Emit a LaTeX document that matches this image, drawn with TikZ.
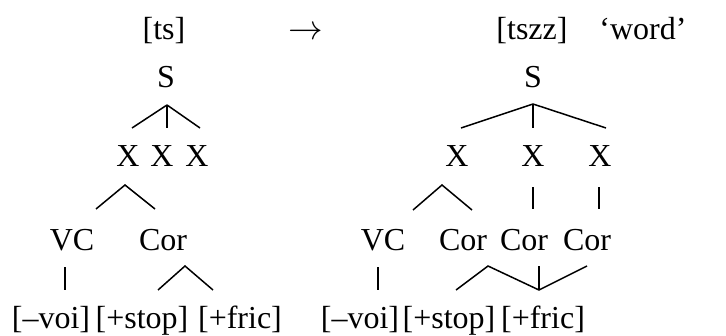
\documentclass[tikz,border=0pt]{standalone}
\usepackage{fontspec}
\setmainfont{Liberation Serif}
\usetikzlibrary{positioning}

\begin{document}
\begin{tikzpicture}[x=0.5pt,y=-0.5pt,
    lab/.style={inner sep=0pt,anchor=base,font=\fontsize{16}{19}\selectfont},
    branch/.style={line width=0.75pt}]

  \useasboundingbox (0,0) rectangle (726,336);

  % Top row
  \node[lab] (ts) at (164,40) {[ts]};
  \node[lab] (arr) at (306,40) {$\rightarrow$};
  \node[lab] (tszz) at (532,40) {[tszz]};
  \node[lab] (gloss) at (643,40) {‘word’};

  % Left tree
  \node[lab] (lS) at (166,88) {S};
  \foreach \n/\x in {1/128,2/162,3/197}
    \node[lab] (lX\n) at (\x,167) {X};
  \node[lab] (lVC) at (72,250) {VC};
  \node[lab] (lCor) at (163,250) {Cor};
  \node[lab] (lvoi) at (51,328) {[–voi]};
  \node[lab] (lstop) at (142,328) {[+stop]};
  \node[lab] (lfric) at (240,328) {[+fric]};

  \coordinate (lSb) at (167,105);
  \coordinate (lX1t) at (132,128);
  \coordinate (lX2t) at (167,128);
  \coordinate (lX3t) at (200,128);
  \coordinate (lX1b) at (125,185);
  \coordinate (lVCt) at (96,209);
  \coordinate (lCort) at (155,209);
  \coordinate (lVCb) at (65,267);
  \coordinate (lvoit) at (65,290);
  \coordinate (lCorb) at (185,266);
  \coordinate (lstopt) at (158,290);
  \coordinate (lfrict) at (213,290);

  \foreach \e in {lX1t,lX2t,lX3t}
    \draw[branch] (lSb) -- (\e);
  \draw[branch] (lVCt) -- (lX1b) -- (lCort);
  \draw[branch] (lVCb) -- (lvoit);
  \draw[branch] (lstopt) -- (lCorb) -- (lfrict);

  % Right tree
  \node[lab] (rS) at (533,88) {S};
  \foreach \n/\x in {1/457,2/533,3/600}
    \node[lab] (rX\n) at (\x,167) {X};
  \node[lab] (rVC) at (383,250) {VC};
  \foreach \n/\x in {1/463,2/524,3/587}
    \node[lab] (rCor\n) at (\x,250) {Cor};
  \node[lab] (rvoi) at (360,328) {[–voi]};
  \node[lab] (rstop) at (449,328) {[+stop]};
  \node[lab] (rfric) at (543,328) {[+fric]};

  \coordinate (rSb) at (533,104);
  \coordinate (rX1t) at (461,128);
  \coordinate (rX2t) at (533,128);
  \coordinate (rX3t) at (606,128);
  \coordinate (rX1b) at (442,185);
  \coordinate (rVCt) at (413,210);
  \coordinate (rCor1t) at (472,210);
  \coordinate (rX2b) at (533,187);
  \coordinate (rCor2t) at (533,209);
  \coordinate (rX3b) at (599,187);
  \coordinate (rCor3t) at (599,209);
  \coordinate (rVCb) at (378,267);
  \coordinate (rvoit) at (378,290);
  \coordinate (rCor1b) at (488,266);
  \coordinate (rCor2b) at (539,266);
  \coordinate (rCor3b) at (587,266);
  \coordinate (rstopt) at (456,290);
  \coordinate (rfrict) at (539,290);

  \foreach \e in {rX1t,rX2t,rX3t}
    \draw[branch] (rSb) -- (\e);
  \draw[branch] (rVCt) -- (rX1b) -- (rCor1t);
  \draw[branch] (rX2b) -- (rCor2t);
  \draw[branch] (rX3b) -- (rCor3t);
  \draw[branch] (rVCb) -- (rvoit);
  \draw[branch] (rstopt) -- (rCor1b) -- (rfrict) -- (rCor3b);
  \draw[branch] (rCor2b) -- (rfrict);
\end{tikzpicture}
\end{document}
